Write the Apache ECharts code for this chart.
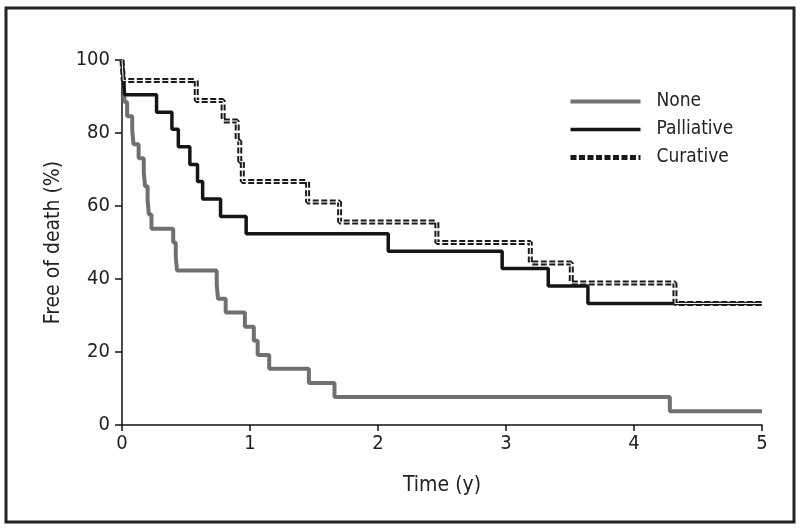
<!DOCTYPE html>
<html>
<head>
<meta charset="utf-8">
<title>Free of death</title>
<script src="https://cdn.jsdelivr.net/npm/echarts@6/dist/echarts.min.js"></script>
<style>
  body { margin: 0; background: #fff; }
  #main { width: 800px; height: 530px; }
</style>
</head>
<body>
<div id="main"></div>
<script>
// Kaplan-Meier steps (time in years, survival in %)
var noneTime = [0, 0.01, 0.015, 0.02, 0.04, 0.08, 0.09, 0.13, 0.17, 0.18, 0.20, 0.21, 0.23, 0.40, 0.42, 0.43, 0.74, 0.75, 0.81, 0.96, 1.03, 1.06, 1.15, 1.46, 1.66, 4.28, 5];
var noneSurv = [100, 96.2, 92.3, 88.5, 84.6, 80.8, 76.9, 73.1, 69.2, 65.4, 61.5, 57.7, 53.8, 50, 46.2, 42.3, 38.5, 34.6, 30.8, 26.9, 23.1, 19.2, 15.4, 11.5, 7.7, 3.8, 3.8];

var palTime = [0, 0.01, 0.02, 0.27, 0.39, 0.44, 0.53, 0.59, 0.63, 0.77, 0.97, 2.08, 2.97, 3.33, 3.64, 5];
var palSurv = [100, 95.2, 90.5, 85.7, 81.0, 76.2, 71.4, 66.7, 61.9, 57.1, 52.4, 47.6, 42.9, 38.1, 33.3, 33.3];

var curTime = [0, 0.01, 0.58, 0.79, 0.90, 0.92, 0.94, 1.45, 1.70, 2.46, 3.19, 3.51, 4.32, 5];
var curSurv = [100, 94.4, 88.9, 83.3, 77.8, 72.2, 66.7, 61.1, 55.6, 50.0, 44.4, 38.9, 33.3, 33.3];

var xTicks = [0, 1, 2, 3, 4, 5];
var yTicks = [0, 20, 40, 60, 80, 100];

function pairs(t, s) {
  return t.map(function (v, i) { return [v, s[i]]; });
}

var font = '"Liberation Sans Narrow", "DejaVu Sans Condensed", Roboto, sans-serif';
var myChart = echarts.init(document.getElementById('main'));

var option = {
  backgroundColor: '#fff',
  animation: false,
  graphic: [{
    type: 'rect',
    shape: { x: 6, y: 8, width: 788, height: 514 },
    style: { fill: 'none', stroke: '#222', lineWidth: 3 },
    silent: true
  }],
  legend: {
    data: ['None', 'Palliative', 'Curative'],
    orient: 'vertical',
    left: 568,
    top: 92,
    padding: 0,
    itemWidth: 70,
    itemHeight: 14,
    itemGap: 9,
    itemStyle: { opacity: 0 },
    lineStyle: { width: 'inherit' },
    textStyle: { fontFamily: font, fontSize: 19, color: '#222', padding: [0, 0, 0, 11] }
  },
  grid: { left: 122, right: 38, top: 60, bottom: 105 },
  xAxis: {
    type: 'value',
    min: xTicks[0],
    max: xTicks[xTicks.length - 1],
    interval: 1,
    name: 'Time (y)',
    nameLocation: 'middle',
    nameGap: 50,
    nameTextStyle: { fontFamily: font, fontSize: 21, color: '#222' },
    axisLine: { lineStyle: { color: '#111', width: 1.5 } },
    axisTick: { show: true, length: 6, lineStyle: { color: '#111', width: 1.5 } },
    axisLabel: { fontFamily: font, fontSize: 20, color: '#222', margin: 9 },
    splitLine: { show: false }
  },
  yAxis: {
    type: 'value',
    min: yTicks[0],
    max: yTicks[yTicks.length - 1],
    interval: 20,
    name: 'Free of death (%)',
    nameLocation: 'middle',
    nameGap: 58,
    nameTextStyle: { fontFamily: font, fontSize: 21, color: '#222' },
    axisLine: { show: true, lineStyle: { color: '#111', width: 1.5 } },
    axisTick: { show: true, length: 7, lineStyle: { color: '#111', width: 1.5 } },
    axisLabel: { fontFamily: font, fontSize: 20, color: '#222', margin: 12 },
    splitLine: { show: false }
  },
  series: [
    {
      name: 'None',
      type: 'line',
      step: 'end',
      symbol: 'none',
      data: pairs(noneTime, noneSurv),
      lineStyle: { color: '#707070', width: 4 },
      itemStyle: { color: '#707070' }
    },
    {
      name: 'Palliative',
      type: 'line',
      step: 'end',
      symbol: 'none',
      data: pairs(palTime, palSurv),
      lineStyle: { color: '#151515', width: 3.5 },
      itemStyle: { color: '#151515' }
    },
    {
      name: 'Curative',
      type: 'line',
      step: 'end',
      symbol: 'none',
      data: pairs(curTime, curSurv),
      lineStyle: { color: '#1a1a1a', width: 5, type: [6, 2.5] },
      itemStyle: { color: '#1a1a1a' }
    },
    {
      // white centre line gives the double-dash look
      name: 'curInner',
      type: 'line',
      step: 'end',
      symbol: 'none',
      silent: true,
      data: pairs(curTime, curSurv),
      lineStyle: { color: '#fff', width: 1 }
    }
  ]
};
myChart.setOption(option);
</script>
</body>
</html>
